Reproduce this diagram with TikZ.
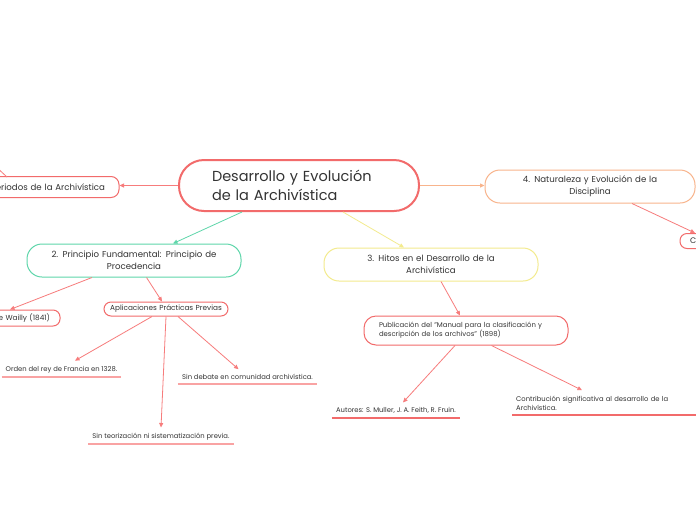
\documentclass[tikz,border=0pt]{standalone}
\usepackage{fontspec}
\setmainfont{Poppins}
\usetikzlibrary{arrows.meta}
\definecolor{cred}{HTML}{F26B6B}
\definecolor{lred}{HTML}{F77C7C}
\definecolor{cpink}{HTML}{F9A3A3}
\definecolor{cgreen}{HTML}{5ED6AA}
\definecolor{cyellow}{HTML}{F3EB8E}
\definecolor{corange}{HTML}{F8B48C}
\definecolor{txt}{HTML}{333333}
\begin{document}
\begin{tikzpicture}[x=1pt,y=-1pt,
  topic/.style={draw=cred, line width=1pt, fill=white, text=txt, inner sep=0pt, align=center, font=\fontsize{8.6}{12}\selectfont},
  central/.style={draw=cred, line width=2pt, fill=white, text=txt, rounded corners=25pt, font=\fontsize{14.5}{19}\selectfont},
  leaf/.style={text=txt, inner xsep=4pt, inner ysep=4pt, font=\fontsize{6.8}{9}\selectfont},
  link/.style={line width=0.8pt, draw=lred, -{Triangle[length=4.5pt,width=4pt]}},
  plainlink/.style={line width=0.8pt, draw=lred},
  uline/.style={line width=1.2pt, draw=cpink},
  uline2/.style={line width=1.2pt, draw=cred}]
\useasboundingbox[fill=white] (0,0) rectangle (696,520);

% central
\node[central, minimum width=240pt, minimum height=51pt, text width=174pt, inner xsep=33pt, inner ysep=0pt, align=left] (c) at (299,185.5) {Desarrollo y Evolución\\de la Archivística};

% main topics
\node[topic, rounded corners=8pt, minimum height=21pt, text width=151pt, inner xsep=14pt, align=right] (n1) at (29.5,187) {1. Periodos de la Archivística};
\node[topic, draw=cgreen, rounded corners=15pt, minimum height=33pt, text width=214pt] (n2) at (134,260.5) {2. Principio Fundamental: Principio de\\Procedencia};
\node[topic, draw=cyellow, rounded corners=15pt, minimum height=33pt, text width=214pt] (n3) at (431,264.5) {3. Hitos en el Desarrollo de la\\Archivística};
\node[topic, draw=corange, rounded corners=15pt, minimum height=33pt, text width=210pt] (n4) at (590,186.5) {4. Naturaleza y Evolución de la\\Disciplina};

% subtopics
\node[topic, rounded corners=7pt, minimum height=16pt, text width=120pt, inner xsep=10pt, align=right, font=\fontsize{7.3}{10}\selectfont] (wa) at (-10,318) {Natalis de Wailly (1841)};
\node[topic, rounded corners=7pt, minimum height=14pt, text width=124pt, font=\fontsize{7.3}{9}\selectfont] (ap) at (166,309) {Aplicaciones Prácticas Previas};
\node[topic, rounded corners=12pt, minimum height=29pt, text width=174pt, inner xsep=15pt, align=left, font=\fontsize{6.9}{9}\selectfont] (pu) at (466,330.5) {Publicación del "Manual para la clasificación y\\descripción de los archivos" (1898)};
\node[topic, rounded corners=7pt, minimum height=15pt, text width=60pt, inner xsep=10pt, align=left, font=\fontsize{8}{10}\selectfont] (cc) at (720,241) {C};

% leaves
\node[leaf, anchor=south] (or) at (61.5,377) {Orden del rey de Francia en 1328.};
\node[leaf, anchor=south] (sd) at (247.5,384) {Sin debate en comunidad archivística.};
\node[leaf, anchor=south] (st) at (161,444) {Sin teorización ni sistematización previa.};
\node[leaf, anchor=south] (au) at (396,418) {Autores: S. Muller, J. A. Feith, R. Fruin.};
\node[leaf, anchor=south west, text width=176pt, align=left] (ct) at (512,415) {Contribución significativa al desarrollo de la\\Archivística.};

\draw[uline] (or.south west) -- (or.south east);
\draw[uline] (sd.south west) -- (sd.south east);
\draw[uline] (st.south west) -- (st.south east);
\draw[uline2] (au.south west) -- (au.south east);
\draw[uline2] (ct.south west) -- (ct.south east);

% connectors
\draw[link] (c.west) -- (c.west -| n1.east);
\draw[link, draw=corange] (c.east) -- (c.east -| n4.west);
\draw[link, draw=cgreen] ([xshift=-57pt]c.south) -- ([xshift=39pt]n2.north);
\draw[link, draw=cyellow] ([xshift=44pt]c.south) -- ([xshift=-27pt]n3.north);
\coordinate (n1a) at (7,177);
\coordinate (n1b) at (-20,152);
\draw[plainlink] (n1a) -- (n1b);
\draw[link] ([xshift=42pt]n4.south) -- ([xshift=-25pt]cc.north);
\draw[link] ([xshift=-42pt]n2.south) -- ([xshift=20pt]wa.north);
\draw[link] ([xshift=12.5pt]n2.south) -- ([xshift=-4pt]ap.north);
\draw[link] ([xshift=-14pt]ap.south) -- ([shift={(13.5,-1)}]or.north);
\draw[link] (ap.south) -- ([shift={(0,-1)}]st.north);
\draw[link] ([xshift=12pt]ap.south) -- ([shift={(-9,-1)}]sd.north);
\draw[link] ([xshift=10pt]n3.south) -- ([xshift=-6pt]pu.north);
\draw[link] ([xshift=-11pt]pu.south) -- ([shift={(7,-1)}]au.north);
\draw[link] ([xshift=25.5pt]pu.south) -- ([shift={(70,-2)}]ct.north west);
\end{tikzpicture}
\end{document}
